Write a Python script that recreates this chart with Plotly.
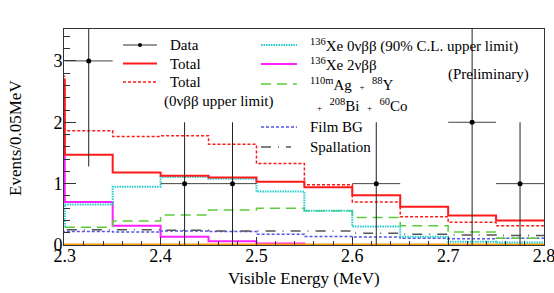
import plotly.graph_objects as go

# ---------------- data ----------------
# lower bin edges (first bin 2.25-2.30 lies below the displayed range)
bin_lo = [2.25, 2.30, 2.35, 2.40, 2.45, 2.50, 2.55, 2.60, 2.65, 2.70, 2.75]
bin_hi_last = 2.80

total_vals = [2.68, 1.47, 1.18, 1.13, 1.10, 1.03, 0.94, 0.81, 0.625, 0.48, 0.40]
total_ul_vals = [2.75, 1.86, 1.77, 1.78, 1.64, 1.33, 0.98, 0.70, 0.46, 0.37, 0.315]
xe0nbb_vals = [0.30, 0.66, 0.95, 1.11, 1.08, 0.87, 0.56, 0.30, 0.135, 0.055, 0.04]
xe2nbb_vals = [1.80, 0.70, 0.315, 0.135, 0.06, 0.025, 0.0, 0.0, 0.0, 0.0, 0.0]
agy_vals = [0.29, 0.29, 0.39, 0.49, 0.57, 0.60, 0.56, 0.45, 0.315, 0.21, 0.11]
film_vals = [0.22, 0.22, 0.21, 0.23, 0.22, 0.175, 0.14, 0.13, 0.11, 0.10, 0.11]
spall_vals = [0.25, 0.25, 0.25, 0.24, 0.23, 0.23, 0.23, 0.19, 0.175, 0.165, 0.155]
other1_vals = [0.0, 0.0, 0.0, 0.0, 0.0, 0.0, 0.0, 0.0, 0.0, 0.0, 0.0]
other2_vals = [0.01, 0.01, 0.01, 0.01, 0.01, 0.01, 0.01, 0.01, 0.01, 0.01, 0.01]

data_x = [2.325, 2.425, 2.475, 2.625, 2.725, 2.775]
data_y = [3, 1, 1, 1, 2, 1]
data_err_up = [2.0, 1.0, 1.0, 1.0, 2.0, 1.0]
data_err_dn = [1.72, 1.0, 1.0, 1.0, 2.0, 1.0]
bin_half = 0.025

FONT = "Liberation Serif"

fig = go.Figure()


def hist(vals, color, width, dash):
    xs = list(bin_lo) + [bin_hi_last]
    ys = list(vals) + [vals[-1]]
    fig.add_trace(go.Scatter(x=xs, y=ys, mode="lines", line_shape="hv",
                             line=dict(color=color, width=width, dash=dash),
                             showlegend=False, hoverinfo="skip"))


RED = "#ff1a1a"
CYAN = "#22cccc"
MAG = "#ff22ff"
GREEN = "#5ccc3c"
BLUE = "#5555e6"
GRAY = "#555555"

hist(other1_vals, "#44bb33", 2, "solid")
hist(xe2nbb_vals, MAG, 2, "solid")
hist(other2_vals, "#ff9900", 2, "solid")
hist(film_vals, BLUE, 1.5, "3px,2px")
hist(spall_vals, GRAY, 1.5, "10px,7px,1px,7px")
hist(agy_vals, GREEN, 1.5, "10px,6px")
hist(xe0nbb_vals, CYAN, 2, "1.5px,1px")
hist(total_ul_vals, RED, 1.5, "3px,2px")
hist(total_vals, RED, 2, "solid")

fig.add_trace(go.Scatter(
    x=data_x, y=data_y, mode="markers",
    marker=dict(color="black", size=5),
    error_y=dict(type="data", symmetric=False, array=data_err_up,
                 arrayminus=data_err_dn, color="#222222", thickness=1, width=0),
    error_x=dict(type="constant", value=bin_half, color="#444444",
                 thickness=1, width=0),
    showlegend=False, hoverinfo="skip"))

# ---------------- legend (drawn manually) ----------------
X0, X1 = 64.0, 544.0
Y0, Y1 = 245.0, 29.0


def px(x):
    return (x - X0) / (X1 - X0)


def py(y):
    return (Y0 - y) / (Y0 - Y1)


shapes = []
annots = []


def sample(xa, xb, y, color, width, dash):
    shapes.append(dict(type="line", xref="paper", yref="paper",
                       x0=px(xa), x1=px(xb), y0=py(y), y1=py(y),
                       line=dict(color=color, width=width, dash=dash)))


def label(x, y, text, size=15, anchor="left"):
    annots.append(dict(xref="paper", yref="paper", x=px(x), y=py(y),
                       text=text, showarrow=False, xanchor=anchor,
                       yanchor="middle",
                       font=dict(family=FONT, size=size, color="black")))


SMALLPLUS = "<span style='font-size:9px'>+</span>"

# left column
sample(123, 157, 45, "#333333", 1, "solid")
shapes.append(dict(type="circle", xref="paper", yref="paper",
                   x0=px(138), x1=px(142), y0=py(43), y1=py(47),
                   fillcolor="black", line=dict(color="black", width=0)))
label(168, 45, "Data")
sample(123, 157, 63.5, RED, 2, "solid")
label(168, 64, "Total")
sample(123, 157, 82, RED, 1.5, "3px,2px")
label(168, 82, "Total")
label(162, 101, "(0νββ upper limit)")

# right column
sample(261, 297, 45, CYAN, 2, "1.5px,1px")
label(308, 45, "<sup>136</sup>Xe 0νββ (90% C.L. upper limit)")
sample(261, 297, 64, MAG, 2, "solid")
label(308, 64, "<sup>136</sup>Xe 2νββ")
sample(261, 297, 84, GREEN, 1.5, "10px,6px")
label(308, 84, "<sup>110m</sup>Ag  " + SMALLPLUS + "  <sup>88</sup>Y")
label(315, 105, SMALLPLUS + "  <sup>208</sup>Bi  " + SMALLPLUS + "  <sup>60</sup>Co")
sample(261, 297, 127, BLUE, 1.5, "3px,2px")
label(308, 127, "Film BG")
sample(261, 291, 147, GRAY, 1.5, "10px,7px,1px,7px")
label(308, 147, "Spallation")

label(488, 74, "(Preliminary)", size=15, anchor="center")

# axis titles
annots.append(dict(xref="paper", yref="paper", x=px(304), y=py(278),
                   text="Visible Energy (MeV)", showarrow=False,
                   xanchor="center", yanchor="middle",
                   font=dict(family=FONT, size=17, color="black")))
annots.append(dict(xref="paper", yref="paper", x=px(15), y=py(138),
                   text="Events/0.05MeV", showarrow=False, textangle=-90,
                   xanchor="center", yanchor="middle",
                   font=dict(family=FONT, size=17, color="black")))

fig.update_layout(
    width=554, height=293,
    margin=dict(l=64, r=10, t=29, b=48, autoexpand=False),
    paper_bgcolor="white", plot_bgcolor="white",
    shapes=shapes, annotations=annots,
    font=dict(family=FONT, size=17, color="black"),
    showlegend=False,
)
fig.update_xaxes(range=[2.2992, 2.8], dtick=0.1, tick0=2.3, ticks="inside",
                 ticklen=8, tickwidth=1, tickcolor="#333333",
                 minor=dict(dtick=0.02, ticks="inside", ticklen=4,
                            tickcolor="#333333"),
                 showgrid=False, zeroline=False, showline=True,
                 linecolor="#333333", linewidth=1, mirror=True,
                 tickformat=".1f", ticklabeloverflow="allow", automargin=False,
                 ticklabelstandoff=-6,
                 tickfont=dict(family=FONT, size=18, color="black"))
fig.update_yaxes(range=[0, 3.52], dtick=1, tick0=0, ticks="inside",
                 ticklen=12, tickwidth=1, tickcolor="#333333",
                 minor=dict(dtick=0.2, ticks="inside", ticklen=6,
                            tickcolor="#333333"),
                 showgrid=False, zeroline=False, showline=True,
                 linecolor="#333333", linewidth=1, mirror=True, automargin=False,
                 ticklabelstandoff=-3,
                 tickfont=dict(family=FONT, size=18, color="black"))

fig.write_html("out.html",
               config={"displayModeBar": False, "staticPlot": True},
               post_script="document.body.style.margin='0';"
                           "document.body.style.padding='0';"
                           "document.body.style.overflow='hidden';")
